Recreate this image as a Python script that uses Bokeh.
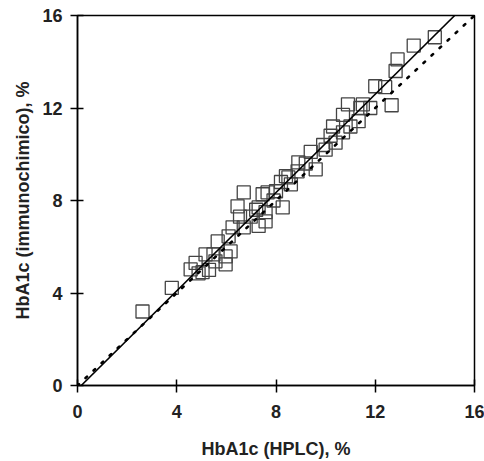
from bokeh.plotting import figure
from bokeh.models import Range1d, FixedTicker, Slope
from bokeh.embed import file_html
from bokeh.resources import INLINE

# Data
hplc = [2.62, 3.8, 4.56, 4.76, 4.88, 5.04, 5.16, 5.3, 5.56, 5.48, 5.65, 5.97, 5.97,
        6.09, 6.17, 6.25, 6.45, 6.7, 6.7, 6.98, 7.3, 7.46, 7.58, 7.58, 7.3, 7.66,
        8.2, 8.27, 8.4, 8.6, 8.87, 8.9, 9.4, 9.6, 10.0, 10.2, 10.4, 10.7, 10.3,
        10.7, 10.9, 11.33, 11.4, 11.5, 11.8, 12.0, 12.4, 12.66, 12.82, 12.9, 13.55,
        14.4, 8.0, 9.2, 9.9, 11.0, 7.2, 8.5, 6.55, 7.9]
immuno = [3.2, 4.22, 5.02, 5.3, 4.85, 4.9, 5.67, 5.0, 5.37, 5.67, 6.23, 5.58, 5.24,
          6.45, 5.8, 6.84, 7.75, 8.35, 6.84, 7.3, 7.7, 8.27, 7.5, 7.1, 6.9, 8.35,
          8.8, 7.7, 9.05, 8.7, 9.26, 9.65, 10.1, 9.35, 10.2, 10.8, 10.5, 10.95, 11.2,
          11.7, 12.16, 11.43, 12.0, 12.16, 12.0, 12.94, 12.9, 12.12, 13.6, 14.1, 14.7,
          15.06, 8.4, 9.6, 10.4, 11.2, 7.6, 9.0, 7.3, 8.0]

reg_slope = 1.063
reg_intercept = -0.16
ident_slope = 1.0
ident_intercept = 0.0

ticks = [0, 4, 8, 12, 16]

p = figure(width=484, height=461, output_backend="svg", toolbar_location=None,
           x_range=Range1d(0, 16), y_range=Range1d(0, 16),
           min_border_left=77, min_border_right=10, min_border_top=15, min_border_bottom=75)
p.background_fill_color = "white"
p.border_fill_color = "white"
p.outline_line_color = "black"
p.outline_line_width = 1.5
p.grid.visible = False

p.scatter(hplc, immuno, marker="square", size=13, fill_color=None,
          line_color="#444444", line_width=1.3)

p.add_layout(Slope(gradient=reg_slope, y_intercept=reg_intercept,
                   line_color="black", line_width=1.6))
p.add_layout(Slope(gradient=ident_slope, y_intercept=ident_intercept,
                   line_color="black", line_width=2.6, line_dash="2 9", line_cap="round"))

for ax in (p.xaxis[0], p.yaxis[0]):
    ax.ticker = FixedTicker(ticks=ticks)
    ax.minor_tick_line_color = None
    ax.major_tick_in = 6
    ax.major_tick_out = 7
    ax.axis_line_width = 1.5
    ax.major_tick_line_width = 1.5
    ax.major_label_text_font = "Liberation Sans"
    ax.major_label_text_font_style = "bold"
    ax.major_label_text_font_size = "18px"
    ax.major_label_text_color = "#222222"
    ax.axis_label_text_font = "Liberation Sans"
    ax.axis_label_text_font_style = "bold"
    ax.axis_label_text_font_size = "18px"
    ax.axis_label_text_color = "#222222"

p.xaxis.axis_label = "HbA1c (HPLC), %"
p.yaxis.axis_label = "HbA1c (immunochimico), %"
p.xaxis.major_label_standoff = 12
p.xaxis.axis_label_standoff = 18
p.yaxis.major_label_standoff = 8
p.yaxis.axis_label_standoff = 6

open("out.html", "w").write(file_html(p, INLINE))
